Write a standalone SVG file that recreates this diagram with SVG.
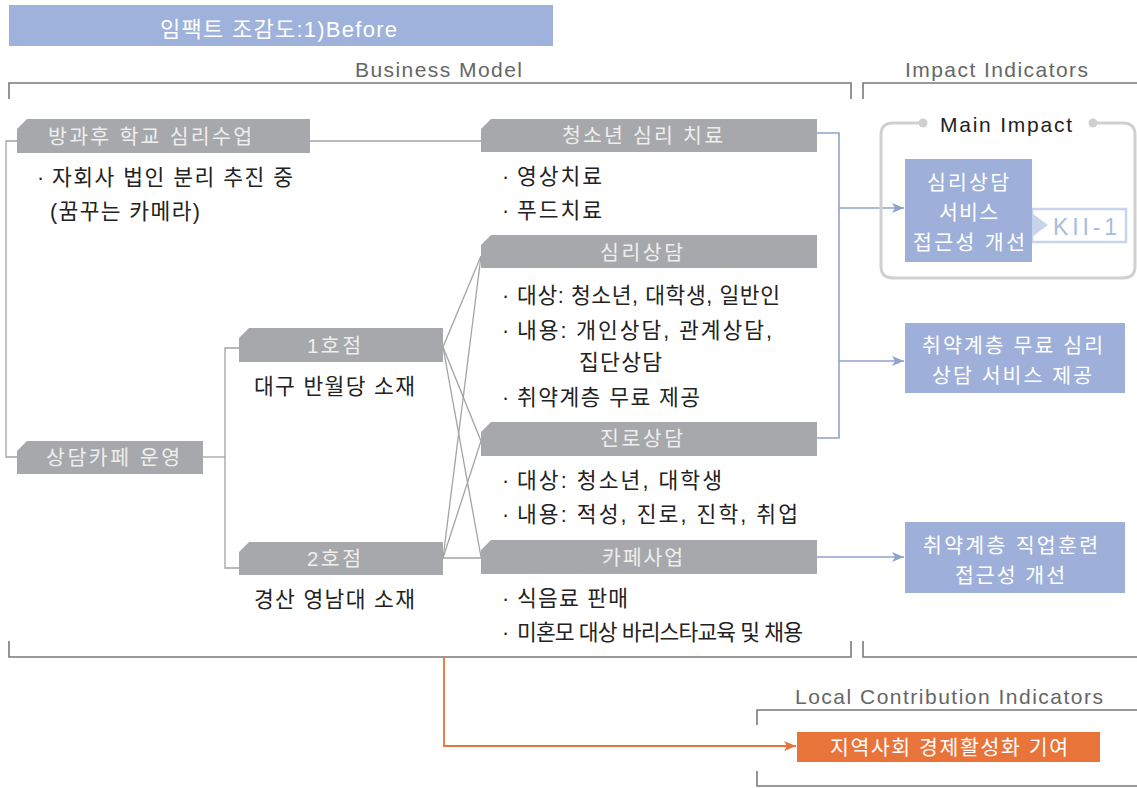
<svg xmlns="http://www.w3.org/2000/svg" width="1137" height="788" viewBox="0 0 1137 788">
  <defs>
    <style>
      text { font-family: "Liberation Sans", "Noto Sans CJK KR", sans-serif; }
      .title { font-size: 22px; fill: #ffffff; }
      .section { font-size: 21px; fill: #666666; }
      .hdr { fill: #a7a8ab; }
      .hdr-t { font-size: 20.5px; fill: #eeeeee; }
      .body { font-size: 21.5px; fill: #222222; }
      .blue { fill: #9eb0d9; }
      .blue-t { font-size: 20.5px; fill: #ffffff; }
      .bracket { fill: none; stroke: #7a7a7a; stroke-width: 1.6; }
      .link { fill: none; stroke: #a3a3a3; stroke-width: 1.3; }
      .blink { fill: none; stroke: #8fa3cd; stroke-width: 1.6; }
      .olink { fill: none; stroke: #e8743a; stroke-width: 1.8; }
    </style>
    <marker id="arrB" viewBox="0 0 12 10" refX="12" refY="5" markerWidth="12" markerHeight="10" markerUnits="userSpaceOnUse" orient="auto">
      <path d="M0,0 L12,5 L0,10 L3,5 Z" fill="#8fa3cd"/>
    </marker>
    <marker id="arrO" viewBox="0 0 12 10" refX="12" refY="5" markerWidth="12" markerHeight="10" markerUnits="userSpaceOnUse" orient="auto">
      <path d="M0,0 L12,5 L0,10 L3,5 Z" fill="#e8743a"/>
    </marker>
  </defs>

  <rect width="1137" height="788" fill="#ffffff"/>

  <!-- title bar -->
  <g id="title">
    <rect x="9" y="5" width="544" height="41" fill="#9fb2db"/>
    <text class="title" x="160" y="37" textLength="237" lengthAdjust="spacing">임팩트 조감도:1)Before</text>
  </g>

  <!-- section brackets and labels -->
  <g id="sections">
    <text class="section" x="355" y="77" textLength="167" lengthAdjust="spacing">Business Model</text>
    <path class="bracket" d="M9,99 V83 H851 V99"/>
    <path class="bracket" d="M9,641 V657 H851 V641"/>
    <text class="section" x="905" y="77" textLength="183" lengthAdjust="spacing">Impact Indicators</text>
    <path class="bracket" d="M863,99 V83 H1137"/>
    <path class="bracket" d="M863,641 V657 H1137"/>
    <text class="section" x="795" y="704" textLength="308" lengthAdjust="spacing">Local Contribution Indicators</text>
    <path class="bracket" d="M757,725 V710 H1137"/>
    <path class="bracket" d="M757,771 V786 H1137"/>
  </g>

  <!-- connectors -->
  <g id="connectors">
    <!-- left tree -->
    <path class="link" d="M17,141 H6 V457 H17"/>
    <path class="link" d="M310,141 H481"/>
    <path class="link" d="M203,457 H225"/>
    <path class="link" d="M239,348 H225 V568 H239"/>
    <!-- branches to services -->
    <path class="link" d="M443,347 L481,256"/>
    <path class="link" d="M443,347 L481,441"/>
    <path class="link" d="M443,347 L481,557"/>
    <path class="link" d="M443,558 L481,256"/>
    <path class="link" d="M443,558 L481,441"/>
    <path class="link" d="M443,558 H481"/>
    <!-- impact links -->
    <path class="blink" d="M817,133 H839 V438 H817"/>
    <path class="blink" d="M839,208 H904" marker-end="url(#arrB)"/>
    <path class="blink" d="M839,361 H904" marker-end="url(#arrB)"/>
    <path class="blink" d="M817,557 H904" marker-end="url(#arrB)"/>
    <!-- local contribution link -->
    <path class="olink" d="M444,657 V746 H796" marker-end="url(#arrO)"/>
  </g>

  <!-- business model nodes -->
  <g id="after-school">
    <path class="hdr" d="M27,119 H310 V153 H17 V129 Z"/>
    <text class="hdr-t" x="48" y="144" textLength="204" lengthAdjust="spacing">방과후 학교 심리수업</text>
    <text class="body" y="185"><tspan x="37">·</tspan><tspan x="52" textLength="241" lengthAdjust="spacing">자회사 법인 분리 추진 중</tspan></text>
    <text class="body" x="50" y="219" textLength="150" lengthAdjust="spacing">(꿈꾸는 카메라)</text>
  </g>

  <g id="counsel-cafe">
    <path class="hdr" d="M27,441 H203 V474 H17 V451 Z"/>
    <text class="hdr-t" x="46" y="465" textLength="134" lengthAdjust="spacing">상담카페 운영</text>
  </g>

  <g id="branch-1">
    <path class="hdr" d="M249,328 H443 V362 H239 V338 Z"/>
    <text class="hdr-t" x="307" y="353" textLength="54" lengthAdjust="spacing">1호점</text>
    <text class="body" x="254" y="394" textLength="161" lengthAdjust="spacing">대구 반월당 소재</text>
  </g>

  <g id="branch-2">
    <path class="hdr" d="M249,542 H443 V575 H239 V552 Z"/>
    <text class="hdr-t" x="307" y="566" textLength="54" lengthAdjust="spacing">2호점</text>
    <text class="body" x="254" y="607" textLength="161" lengthAdjust="spacing">경산 영남대 소재</text>
  </g>

  <g id="youth-therapy">
    <path class="hdr" d="M491,119 H817 V152 H481 V129 Z"/>
    <text class="hdr-t" x="562" y="143" textLength="161" lengthAdjust="spacing">청소년 심리 치료</text>
    <text class="body" y="184"><tspan x="502">·</tspan><tspan x="517" textLength="85" lengthAdjust="spacing">영상치료</tspan></text>
    <text class="body" y="218"><tspan x="502">·</tspan><tspan x="517" textLength="85" lengthAdjust="spacing">푸드치료</tspan></text>
  </g>

  <g id="psych-counsel">
    <path class="hdr" d="M491,235 H817 V268 H481 V245 Z"/>
    <text class="hdr-t" x="600" y="260" textLength="83" lengthAdjust="spacing">심리상담</text>
    <text class="body" y="303"><tspan x="502">·</tspan><tspan x="517" textLength="263" lengthAdjust="spacing">대상: 청소년, 대학생, 일반인</tspan></text>
    <text class="body" y="338"><tspan x="502">·</tspan><tspan x="517" textLength="255" lengthAdjust="spacing">내용: 개인상담, 관계상담,</tspan></text>
    <text class="body" x="579" y="370" textLength="83" lengthAdjust="spacing">집단상담</text>
    <text class="body" y="405"><tspan x="502">·</tspan><tspan x="517" textLength="183" lengthAdjust="spacing">취약계층 무료 제공</tspan></text>
  </g>

  <g id="career-counsel">
    <path class="hdr" d="M491,422 H817 V456 H481 V432 Z"/>
    <text class="hdr-t" x="600" y="446" textLength="83" lengthAdjust="spacing">진로상담</text>
    <text class="body" y="488"><tspan x="502">·</tspan><tspan x="517" textLength="205" lengthAdjust="spacing">대상: 청소년, 대학생</tspan></text>
    <text class="body" y="522"><tspan x="502">·</tspan><tspan x="517" textLength="281" lengthAdjust="spacing">내용: 적성, 진로, 진학, 취업</tspan></text>
  </g>

  <g id="cafe-business">
    <path class="hdr" d="M491,540 H817 V574 H481 V550 Z"/>
    <text class="hdr-t" x="602" y="565" textLength="81" lengthAdjust="spacing">카페사업</text>
    <text class="body" y="606"><tspan x="502">·</tspan><tspan x="517" textLength="111" lengthAdjust="spacing">식음료 판매</tspan></text>
    <text class="body" y="640"><tspan x="502">·</tspan><tspan x="517" textLength="286" lengthAdjust="spacing">미혼모 대상 바리스타교육 및 채용</tspan></text>
  </g>

  <!-- impact indicators -->
  <g id="main-impact">
    <path d="M923,123 H893 Q881,123 881,135 V266 Q881,278 893,278 H1123 Q1135,278 1135,266 V135 Q1135,123 1123,123 H1093" fill="none" stroke="#d0d0d0" stroke-width="3"/>
    <circle cx="923" cy="123" r="4.5" fill="#d0d0d0"/>
    <circle cx="1093" cy="123" r="4.5" fill="#d0d0d0"/>
    <text x="940" y="132" font-size="21" fill="#222222" textLength="132" lengthAdjust="spacing">Main Impact</text>
  </g>

  <g id="kii-1">
    <rect x="1032" y="209" width="94" height="33" fill="#ffffff" stroke="#c8d4eb" stroke-width="2.5"/>
    <path d="M1032,213 L1048,225 L1032,237 Z" fill="#c8d4eb"/>
    <text x="1053" y="235" font-size="23" fill="#a9bbdf" textLength="64" lengthAdjust="spacing">KII-1</text>
  </g>

  <g id="impact-access">
    <rect class="blue" x="905" y="159" width="127" height="103"/>
    <text class="blue-t" x="927" y="190" textLength="82" lengthAdjust="spacing">심리상담</text>
    <text class="blue-t" x="939" y="220" textLength="59" lengthAdjust="spacing">서비스</text>
    <text class="blue-t" x="913" y="250" textLength="112" lengthAdjust="spacing">접근성 개선</text>
  </g>

  <g id="impact-free">
    <rect class="blue" x="905" y="323" width="220" height="70"/>
    <text class="blue-t" x="922" y="353" textLength="181" lengthAdjust="spacing">취약계층 무료 심리</text>
    <text class="blue-t" x="932" y="383" textLength="160" lengthAdjust="spacing">상담 서비스 제공</text>
  </g>

  <g id="impact-job">
    <rect class="blue" x="905" y="522" width="220" height="71"/>
    <text class="blue-t" x="923" y="553" textLength="175" lengthAdjust="spacing">취약계층 직업훈련</text>
    <text class="blue-t" x="955" y="583" textLength="110" lengthAdjust="spacing">접근성 개선</text>
  </g>

  <!-- local contribution -->
  <g id="local-economy">
    <rect x="797" y="732" width="303" height="30" fill="#e8743a"/>
    <text x="830" y="755" font-size="20.5" fill="#ffffff" textLength="238" lengthAdjust="spacing">지역사회 경제활성화 기여</text>
  </g>
</svg>
